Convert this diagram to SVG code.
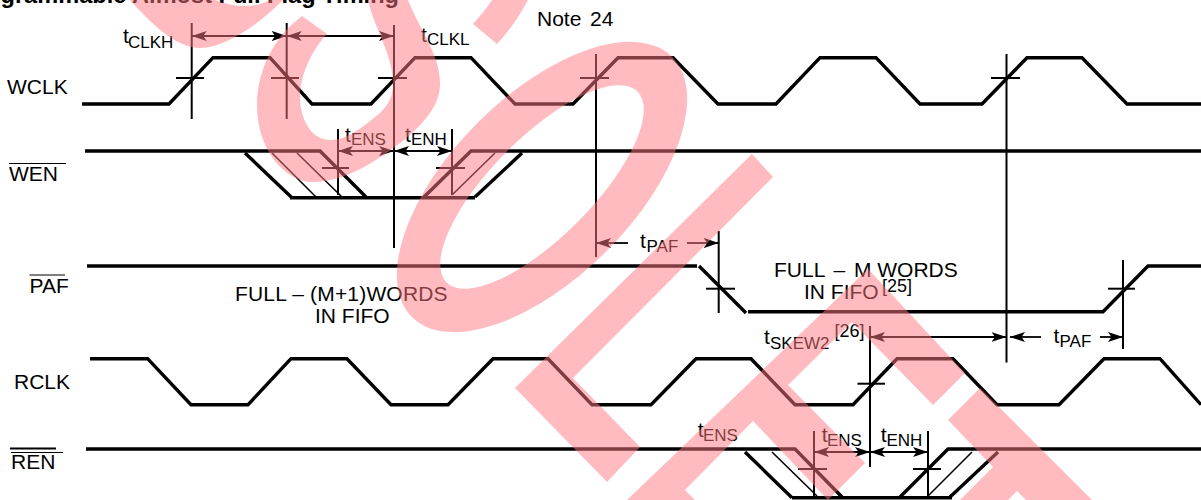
<svg xmlns="http://www.w3.org/2000/svg" width="1201" height="500" viewBox="0 0 1201 500">
<style>
text{font-family:"Liberation Sans",Arial,sans-serif;font-size:21px;fill:#000}
.sub{font-size:17px}
.title{font-weight:bold;font-size:23.6px}
.w{fill:none;stroke:#000;stroke-width:3.4;stroke-linejoin:miter}
.e{fill:none;stroke:#000;stroke-width:1.6}
.t{fill:none;stroke:#000;stroke-width:2}
.a{fill:none;stroke:#000;stroke-width:1.8}
.o{fill:none;stroke:#000;stroke-width:1.2}
.both{marker-start:url(#ah);marker-end:url(#ah)}
.end{marker-end:url(#ah)}
.wm{fill:#ff7880;fill-opacity:.5;fill-rule:evenodd;stroke:none}
</style>
<defs>
<marker id="ah" markerUnits="userSpaceOnUse" markerWidth="16" markerHeight="12" refX="15" refY="6" orient="auto-start-reverse"><path d="M0,1 L15,6 L0,11 L3.5,6 Z" fill="#000"/></marker>
</defs>
<rect width="1201" height="500" fill="#fff"/>
<text id="title" class="title" x="399" y="3" text-anchor="end">grammable Almost Full Flag Timing</text>
<text id="note" x="537" y="26">Note</text>
<text id="note-num" x="590" y="26">24</text>
<g id="wclk">
<text x="7" y="94">WCLK</text>
<polyline class="w" points="82,104 169,104 213,57.7 270,57.7 312,104 371,104 415,57.7 471,57.7 515,104 573,104 618,57.7 673,57.7 718,104 776,104 820,57.7 876,57.7 920,104 982,104 1027,57.7 1082,57.7 1127,104 1201,104"/>
</g>
<g id="wen">
<text x="9" y="181">WEN</text>
<line class="o" x1="9" y1="163.5" x2="66" y2="163.5"/>
<polyline class="w" points="85,151 320,151 366,197"/>
<polyline class="w" points="245,153 292,197.7"/>
<polyline class="e" points="272,153 316,197"/>
<polyline class="e" points="297,153 342,197"/>
<polyline class="w" points="290,197.7 475,197.7"/>
<polyline class="w" points="424,197 471,151 1201,151"/>
<polyline class="e" points="452,195 495,153"/>
<polyline class="w" points="475,197 522,153"/>
</g>
<g id="paf">
<text x="29.5" y="292.7">PAF</text>
<line class="o" x1="29.5" y1="275" x2="65" y2="275"/>
<polyline class="w" points="87,266 697,266"/>
<polyline class="w" points="699,266 746,313"/>
<polyline class="w" points="748,311.7 1103,311.7 1148,266 1201,266"/>
<text x="235" y="301" style="letter-spacing:.17px">FULL – (M+1)WORDS</text>
<text x="315" y="323">IN FIFO</text>
<text x="774" y="276.7">FULL<tspan dx="3"> –</tspan><tspan dx="3"> M WORDS</tspan></text>
<text x="804" y="299">IN FIFO</text>
<text x="882" y="292" style="font-size:18px">[25]</text>
</g>
<g id="rclk">
<text x="14" y="389">RCLK</text>
<polyline class="w" points="90,358.7 147.6,358.7 191,404.7 248,404.7 291,358.7 347,358.7 391,404.7 448,404.7 493,358.7 548,358.7 592,404.7 651,404.7 696,358.7 751,358.7 795,404.7 853,404.7 897,358.7 953,358.7 997,404.7 1059,404.7 1104,358.7 1160,358.7 1201,404.7"/>
</g>
<g id="ren">
<text x="11" y="469">REN</text>
<line class="t" x1="10" y1="448.5" x2="56" y2="448.5"/>
<line class="o" x1="11" y1="452.5" x2="63" y2="452.5"/>
<polyline class="w" points="86,449 795,449 842,497"/>
<polyline class="w" points="745,452 792,497.7"/>
<polyline class="e" points="772,452 817,496"/>
<polyline class="w" points="792,497.7 952,497.7"/>
<polyline class="w" points="900,497 948,449 1201,449"/>
<polyline class="e" points="928,496 972,452"/>
<polyline class="w" points="950,497 998,452"/>
</g>
<g id="connectors">
<line class="t" x1="191.7" y1="23" x2="191.7" y2="119"/>
<line class="t" x1="176" y1="78" x2="204" y2="78"/>
<line class="t" x1="286.7" y1="23" x2="286.7" y2="119"/>
<line class="t" x1="271" y1="78" x2="299" y2="78"/>
<line class="t" x1="394" y1="25" x2="394" y2="248"/>
<line class="t" x1="378" y1="78" x2="407" y2="78"/>
<line class="t" x1="596" y1="54" x2="596" y2="257"/>
<line class="t" x1="580" y1="78" x2="609" y2="78"/>
<line class="t" x1="1006.5" y1="54" x2="1006.5" y2="362.5"/>
<line class="t" x1="991" y1="78" x2="1020" y2="78"/>
<line class="a both" x1="191.7" y1="36" x2="286.7" y2="36"/>
<line class="a both" x1="286.7" y1="36" x2="394" y2="36"/>
<line class="t" x1="338" y1="129" x2="338" y2="195"/>
<line class="t" x1="322" y1="168" x2="349" y2="168"/>
<line class="t" x1="452" y1="129" x2="452" y2="195"/>
<line class="t" x1="436" y1="168" x2="465" y2="168"/>
<line class="a both" x1="338" y1="151" x2="394" y2="151"/>
<line class="a both" x1="394" y1="151" x2="452" y2="151"/>
<line class="t" x1="718.7" y1="231" x2="718.7" y2="313"/>
<line class="t" x1="706" y1="288.7" x2="735" y2="288.7"/>
<line class="a end" x1="628" y1="243" x2="596" y2="243"/>
<line class="a end" x1="687" y1="243" x2="718.7" y2="243"/>
<line class="t" x1="1123" y1="260" x2="1123" y2="349"/>
<line class="t" x1="1108" y1="288.7" x2="1135" y2="288.7"/>
<line class="t" x1="870" y1="326" x2="870" y2="467"/>
<line class="t" x1="857.5" y1="383.7" x2="885" y2="383.7"/>
<line class="a both" x1="870" y1="337" x2="1006.5" y2="337"/>
<line class="a end" x1="1041" y1="337" x2="1010" y2="337"/>
<line class="a end" x1="1100" y1="337" x2="1123" y2="337"/>
<line class="t" x1="814" y1="431" x2="814" y2="496"/>
<line class="t" x1="798" y1="469" x2="827" y2="469"/>
<line class="t" x1="928" y1="431" x2="928" y2="496"/>
<line class="t" x1="913" y1="469" x2="941" y2="469"/>
<line class="a both" x1="814" y1="452" x2="870" y2="452"/>
<line class="a both" x1="870" y1="452" x2="928" y2="452"/>
</g>
<g id="timing-labels">
<text x="123" y="43">t</text><text class="sub" x="128" y="48">CLKH</text>
<text x="421" y="42">t</text><text class="sub" x="427" y="45">CLKL</text>
<text x="345" y="141.6">t</text><text class="sub" x="351" y="145">ENS</text>
<text x="405" y="141.6">t</text><text class="sub" x="411" y="145">ENH</text>
<text x="640" y="248">t</text><text class="sub" x="646.5" y="252">PAF</text>
<text x="764" y="344">t</text><text class="sub" x="770" y="349">SKEW2</text>
<text x="834.5" y="337" style="font-size:18px">[26]</text>
<text x="1053.5" y="343">t</text><text class="sub" x="1059.5" y="346.7">PAF</text>
<text x="697.7" y="437">t</text><text class="sub" x="703" y="441">ENS</text>
<text x="821.7" y="441.7">t</text><text class="sub" x="827" y="445.7">ENS</text>
<text x="880.7" y="441.7">t</text><text class="sub" x="886.5" y="445.7">ENH</text>
</g>
<g id="watermark">
<path class="wm" d="M130,0 C150,22 175,48 200,48 C225,48 258,25 283,0 L270,0 C255,8 235,8 215,0 Z"/>
<path class="wm" d="M302,16 C270,40 257,75 257,105 C257,150 285,182 313,182 C345,182 380,160 410,135 C432,115 440,100 440,83 C440,55 420,30 408,0 L368,0 C375,30 393,55 393,83 C393,95 390,103 380,113 C360,130 345,140 330,140 C312,140 300,120 300,97 C300,75 312,50 327,34 Z"/>
<path class="wm" d="M473,24 L497,44 C510,30 520,15 528,0 L492,0 C487,8 480,16 473,24 Z"/>
<g transform="rotate(-45 542 187)"><path class="wm" d="M358,187 A184,91 0 1 0 726,187 A184,91 0 1 0 358,187 Z M407,187 A135,50 0 1 1 677,187 A135,50 0 1 1 407,187 Z"/></g>
<path class="wm" d="M752,154 L773,177 L573,378 L640,447 L607,482 L515,388 Z"/>
<path class="wm" d="M868,269 L965,373 L933,405 L852,322 L788,385 L865,463 L828,500 L753,421 L685,490 L695,500 L627,500 Z"/>
<path class="wm" d="M980,388 L1092,500 L1026,500 L1017,491 L1008,500 L960,500 L993,467 L948,420 Z"/>
</g>
</svg>
